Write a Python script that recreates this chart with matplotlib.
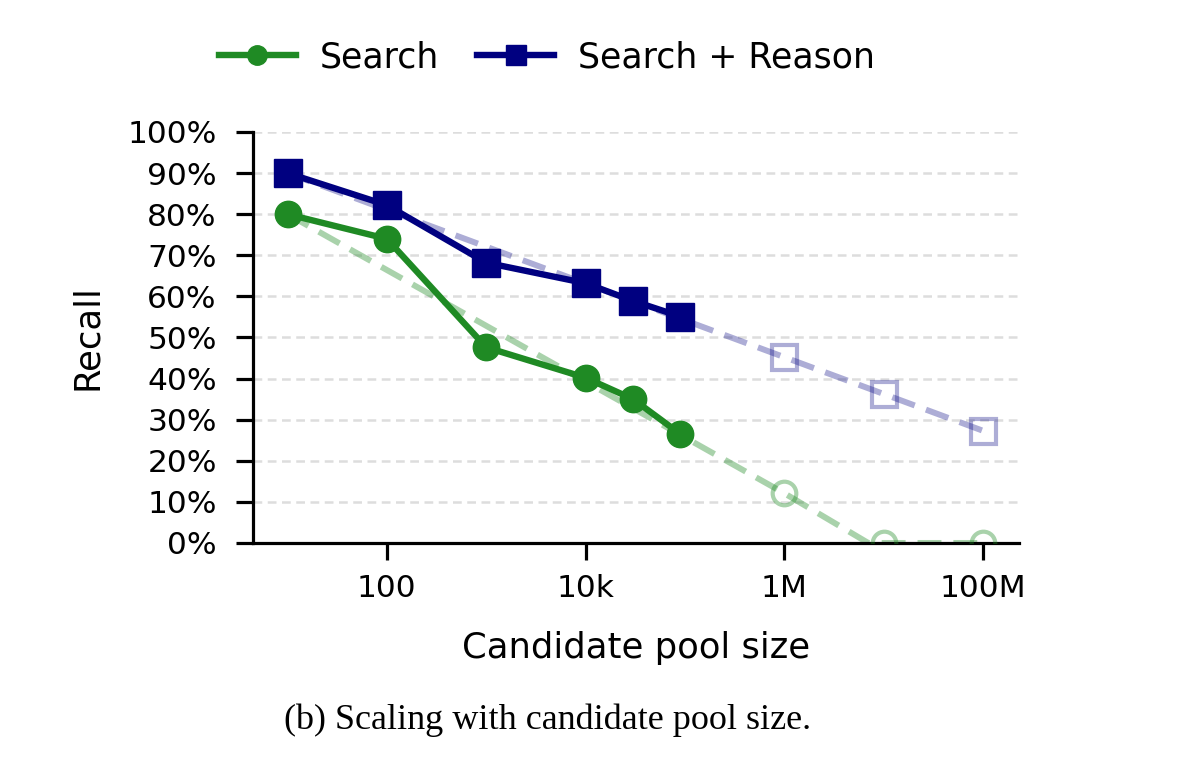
import numpy as np
import matplotlib
matplotlib.use("Agg")
import matplotlib.pyplot as plt
from matplotlib.lines import Line2D

# measured points
pool_size = [10, 100, 1000, 10000, 30000, 90000]
recall_search = [80.0, 74.0, 47.6, 40.2, 35.0, 26.5]
recall_reason = [90.0, 82.2, 68.2, 63.2, 58.9, 55.1]

# extrapolated points (open markers)
pool_size_extra = [1e6, 1e7, 1e8]
extra_search = [12.1, 0.0, 0.0]
extra_reason = [45.2, 36.2, 27.3]

# dashed trend lines
trend_x_search = [10, 1e6, 7e6, 1e8]
trend_y_search = [80.0, 12.1, 0.0, 0.0]
trend_x_reason = [10, 1e8]
trend_y_reason = [90.0, 27.3]

xtick_vals = [100, 1e4, 1e6, 1e8]
xtick_labels = ["100", "10k", "1M", "100M"]
ytick_vals = list(range(0, 101, 10))

green = "#1f8a24"
navy = "#000080"

plt.rcParams["font.family"] = ["DejaVu Sans"]

fig = plt.figure(figsize=(12, 7.75), dpi=100)
ax = fig.add_axes([0.2108, 0.2994, 0.6383, 0.5303])

# trends (faded, dashed)
ax.plot(trend_x_search, trend_y_search, color=green, alpha=0.38, lw=4.3,
        ls=(0, (4, 2)), zorder=2)
ax.plot(trend_x_reason, trend_y_reason, color=navy, alpha=0.32, lw=4.3,
        ls=(0, (4, 2)), zorder=2)
ax.plot(pool_size_extra, extra_search, ls="none", marker="o", ms=17,
        mfc="none", mec=green, mew=3, alpha=0.38, zorder=3)
ax.plot(pool_size_extra, extra_reason, ls="none", marker="s", ms=18,
        mfc="none", mec=navy, mew=3, alpha=0.32, zorder=3)

# measured
ax.plot(pool_size, recall_search, color=green, lw=4.6, marker="o", ms=19,
        zorder=4)
ax.plot(pool_size, recall_reason, color=navy, lw=4.6, marker="s", ms=19.5,
        zorder=5)

ax.set_xscale("log")
ax.set_xlim(4.49, 2.3e8)
ax.set_ylim(0, 100)
ax.set_xticks(xtick_vals)
ax.set_xticklabels(xtick_labels)
ax.xaxis.set_minor_locator(matplotlib.ticker.NullLocator())
ax.set_yticks(ytick_vals)
ax.set_yticklabels([f"{v}%" for v in ytick_vals])

ax.grid(axis="y", color="#dddddd", lw=1.8, ls=(0, (3.5, 2.2)), zorder=0)
ax.set_axisbelow(True)

for s in ["top", "right"]:
    ax.spines[s].set_visible(False)
for s in ["left", "bottom"]:
    ax.spines[s].set_linewidth(2.3)
ax.tick_params(axis="both", length=12, width=2.3, labelsize=22.5)
ax.tick_params(axis="x", pad=10)
ax.tick_params(axis="y", pad=14)

fig.text(0.0725, 0.5645, "Recall", rotation=90, ha="center", va="center",
         fontsize=25.5)
fig.text(0.53, 1 - 648 / 775, "Candidate pool size", ha="center",
         va="center", fontsize=25.5)
fig.text(0.4567, 1 - 720 / 775, "(b) Scaling with candidate pool size.",
         ha="center", va="center", fontsize=26, family="Liberation Serif")

handles = [
    Line2D([], [], color=green, lw=4.6, marker="o", ms=14),
    Line2D([], [], color=navy, lw=4.6, marker="s", ms=15),
]
fig.legend(handles, ["Search", "Search + Reason"], loc="center",
           bbox_to_anchor=(0.456, 1 - 57 / 775), ncol=2, frameon=False,
           fontsize=25, handlelength=2.2, handletextpad=0.7,
           columnspacing=1.1)

fig.savefig("out.png", dpi=100)
